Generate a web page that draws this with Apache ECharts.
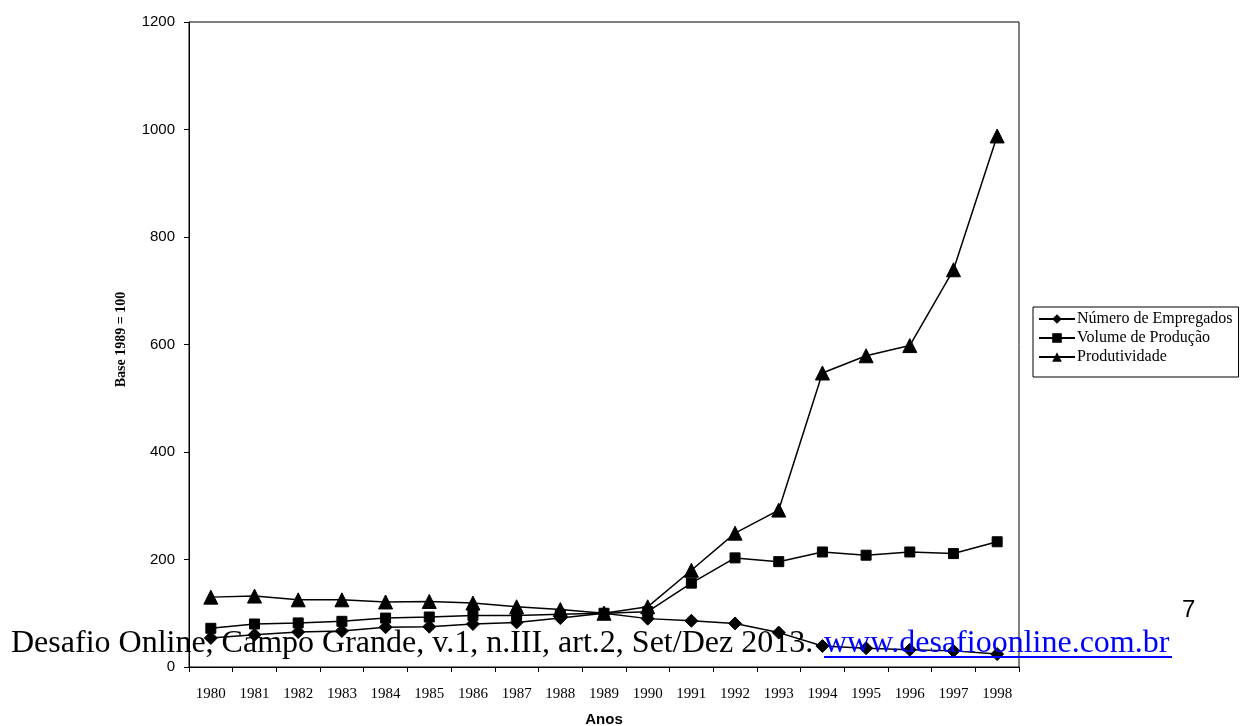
<!DOCTYPE html>
<html>
<head>
<meta charset="utf-8">
<script src="https://cdn.jsdelivr.net/npm/echarts@6/dist/echarts.min.js"></script>
<style>
  html, body { margin: 0; padding: 0; background: #fff; overflow: hidden; }
  #main { width: 1240px; height: 726px; }
</style>
</head>
<body>
<div id="main"></div>
<script>
    // dados (base 1989 = 100)
    var anos = ['1980', '1981', '1982', '1983', '1984', '1985', '1986', '1987', '1988', '1989',
        '1990', '1991', '1992', '1993', '1994', '1995', '1996', '1997', '1998'];
    var empregados = [54, 60, 65, 67, 74, 75, 80, 83, 91, 100, 90, 86, 81, 64, 39, 35, 32, 30, 24];
    var producao = [72, 80, 82, 85, 91, 93, 96, 96, 98, 100, 103, 156, 203, 196, 214, 208, 214, 211, 233];
    var produtividade = [130, 132, 125, 125, 121, 122, 119, 112, 107, 100, 112, 180, 249, 292, 547, 579, 598, 739, 988];
    var yTicks = [0, 200, 400, 600, 800, 1000, 1200];

    var serif = '"Liberation Serif", "Times New Roman", serif';
    var sans = '"Liberation Sans", Arial, sans-serif';

    var myChart = echarts.init(document.getElementById('main'));

    function serie(nome, dados, simbolo, tam) {
        return {
            name: nome,
            type: 'line',
            data: dados,
            symbol: simbolo,
            symbolSize: tam,
            showAllSymbol: true,
            lineStyle: { color: '#000', width: 1.5 },
            itemStyle: { color: '#000', borderColor: '#000' },
            emphasis: { disabled: true },
            z: 3
        };
    }

    var option = {
        animation: false,
        backgroundColor: '#fff',
        grid: {
            left: 189, right: 221, top: 22, bottom: 59,
            outerBoundsMode: 'none',
            containLabel: false,
            show: true, borderColor: '#000', borderWidth: 1, backgroundColor: 'transparent'
        },
        legend: {
            orient: 'vertical',
            left: 1033, top: 307,
            padding: [4, 6, 12, 5],
            itemGap: 3,
            itemWidth: 36,
            itemHeight: 12,
            borderColor: '#000',
            borderWidth: 1,
            borderRadius: 0,
            textStyle: { fontFamily: serif, fontSize: 16, color: '#000', padding: [0, 0, 0, -3] },
            data: ['Número de Empregados', 'Volume de Produção', 'Produtividade']
        },
        xAxis: {
            type: 'category',
            data: anos,
            name: 'Anos',
            nameLocation: 'middle',
            nameGap: 45,
            nameTextStyle: { fontFamily: sans, fontWeight: 'bold', fontSize: 15, color: '#000' },
            axisLine: { lineStyle: { color: '#000', width: 1 } },
            axisTick: { show: true, length: 5, lineStyle: { color: '#000' } },
            axisLabel: { fontFamily: serif, fontSize: 15, color: '#000', margin: 20 }
        },
        yAxis: {
            type: 'value',
            min: yTicks[0],
            max: yTicks[yTicks.length - 1],
            interval: 200,
            name: 'Base 1989 = 100',
            nameLocation: 'middle',
            nameGap: 61,
            nameRotate: 90,
            nameTextStyle: { fontFamily: serif, fontWeight: 'bold', fontSize: 14, color: '#000', padding: [0, 0, 0, 10] },
            axisLine: { show: true, lineStyle: { color: '#000', width: 1 } },
            axisTick: { show: true, length: 5, lineStyle: { color: '#000' } },
            axisLabel: {
                fontFamily: sans, fontSize: 15, color: '#000', margin: 14,
                formatter: function (v) { return String(v); }
            },
            splitLine: { show: false }
        },
        series: [
            serie('Número de Empregados', empregados, 'diamond', 13),
            serie('Volume de Produção', producao, 'rect', 10),
            serie('Produtividade', produtividade, 'triangle', 14)
        ],
        graphic: [
            {
                type: 'text', z: 100,
                style: {
                    x: 11, y: 628, text: 'Desafio Online, Campo Grande, v.1, n.III, art.2, Set/Dez 2013. ',
                    font: '32px ' + serif, fill: '#000', verticalAlign: 'top'
                }
            },
            {
                type: 'text', z: 100,
                style: {
                    x: 824, y: 628, text: 'www.desafioonline.com.br',
                    font: '32px ' + serif, fill: '#0000ff', verticalAlign: 'top'
                }
            },
            {
                type: 'line', z: 100,
                shape: { x1: 824, y1: 657, x2: 1172, y2: 657 },
                style: { stroke: '#0000ff', lineWidth: 2 }
            },
            {
                type: 'text', z: 100,
                style: {
                    x: 1182, y: 598, text: '7',
                    font: '24px ' + sans, fill: '#000', verticalAlign: 'top'
                }
            }
        ]
    };

    myChart.setOption(option);
</script>
</body>
</html>
